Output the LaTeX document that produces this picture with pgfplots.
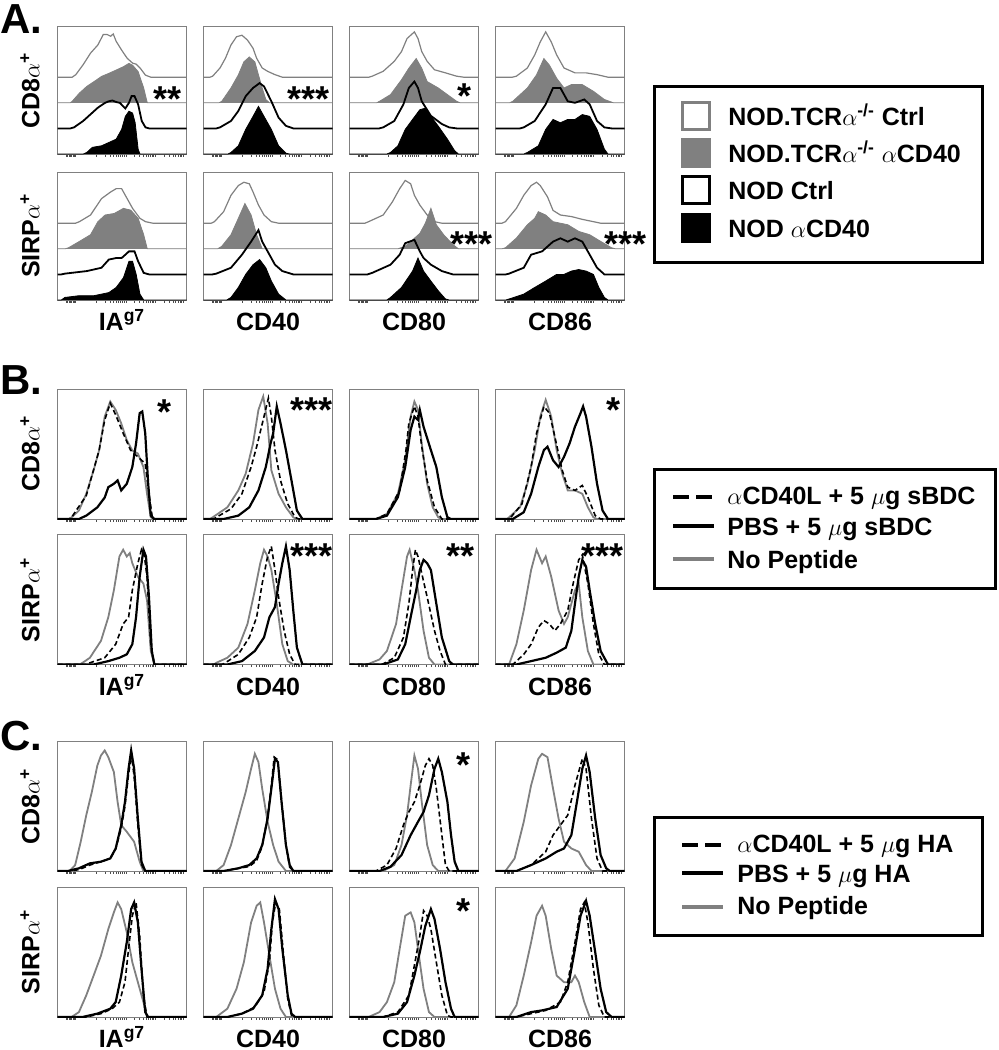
\documentclass[border=0pt]{standalone}
\usepackage{pgfplots}
\pgfplotsset{compat=1.18}
\usepackage{fontspec}
\setmainfont{Liberation Sans}
\pgfplotsset{
 fbase/.style={scale only axis, width=64.5pt, xmin=0, xmax=100, anchor=north west,
   axis line style={draw=gray, line width=0.5pt}, ytick=\empty,
   xtick={7,8,9,10,11,12,13,14,30,36.8,40.7,43.5,45.7,47.5,49,50.3,51.5,53,59.8,63.7,66.5,68.7,70.5,72,73.3,74.5,76,82.8,86.7,89.5,91.7,93.5,95,96.3,97.5},
   xticklabels={}, xtick pos=left, tick align=outside, major tick length=1.3pt,
   tick style={gray!60!black, line width=0.35pt}},
 fa/.style={fbase, height=64pt, ymin=0, ymax=5},
 fb/.style={fbase, height=65pt, ymin=0, ymax=100},
 fc/.style={fbase, height=64.75pt, ymin=0, ymax=100},
 lane/.style={y filter/.expression={y+#1}},
 go/.style={draw=gray, line width=0.6pt, no markers, lane=3},
 gf/.style={draw=gray, fill=gray, line width=0.4pt, no markers, lane=2},
 bo/.style={draw=black, line width=0.9pt, no markers, lane=1},
 bf/.style={draw=black, fill=black, line width=0.4pt, no markers, lane=0},
 cg/.style={draw=gray, line width=0.9pt, no markers},
 cd/.style={draw=black, line width=0.8pt, dash pattern=on 2.5pt off 1.5pt, no markers},
 cs/.style={draw=black, line width=1.1pt, no markers},
}
\begin{document}
\begin{tikzpicture}
% ---------------- Panel A ----------------
\begin{axis}[fa, at={(28.75pt,-13pt)}]
\addplot[go] coordinates {(0,0)(11.4,0)(14.2,0.1)(19.9,0.49)(25.6,0.94)(31.3,1.26)(35.5,1.67)(38.4,1.67)(41.2,1.6)(43.2,1.69)(45.5,1.4)(49.7,1.06)(54,0.74)(58.2,0.55)(61,0.51)(64,0.36)(68.2,0.08)(72.4,0)(100,0)};
\addplot[gf] coordinates {(0,0)(9.9,0)(11.4,0.06)(17,0.38)(22.7,0.64)(28.4,0.83)(34.1,1.03)(39.8,1.15)(45.5,1.28)(51.1,1.41)(55.4,1.54)(58.2,1.47)(62.5,1.22)(66.8,0.58)(69.6,0)(100,0)};
\addplot[bo] coordinates {(0,0)(10,0)(12.8,0.04)(19.9,0.29)(25.6,0.55)(31.3,0.81)(36.9,1.0)(39.8,1.06)(42.6,1.09)(45.5,1.03)(48.3,1.0)(52.6,0.78)(55.4,1.0)(57.4,1.26)(59.7,1.26)(62.5,0.94)(65.3,0.29)(68.2,0.04)(71,0)(100,0)};
\addplot[bf] coordinates {(0,0)(20,0)(22.7,0.06)(27,0.26)(34.1,0.32)(39.8,0.45)(45.5,0.58)(49.7,0.96)(52.6,1.47)(55.4,1.67)(58.2,1.6)(60.2,1.22)(62.5,0.19)(63.9,0)(100,0)};
\end{axis}
\begin{axis}[fa, at={(101.75pt,-13pt)}]
\addplot[go] coordinates {(0,0)(5,0)(7.1,0.04)(12.8,0.36)(17,0.74)(21.3,1.26)(25.6,1.58)(29.8,1.64)(34.1,1.45)(38.4,1.13)(41.2,0.74)(45.5,0.36)(49.7,0.23)(55.4,0.1)(61.1,0)(100,0)};
\addplot[gf] coordinates {(0,0)(12,0)(14.2,0.06)(21.3,0.58)(27,1.09)(31.3,1.6)(35.5,1.79)(39.8,1.6)(42.6,1.09)(45.5,0.58)(48.3,0.13)(51.1,0)(100,0)};
\addplot[bo] coordinates {(0,0)(10,0)(12.8,0.04)(21.3,0.29)(27,0.68)(32.7,1.26)(38.4,1.58)(43.5,1.77)(46.9,1.64)(52.6,1.06)(58.2,0.42)(63.9,0.1)(69.6,0)(100,0)};
\addplot[bf] coordinates {(0,0)(19,0)(21.3,0.06)(27,0.32)(32.7,0.96)(38.4,1.47)(42.6,1.86)(46.9,1.47)(52.6,0.96)(58.2,0.32)(63.9,0.03)(66.8,0)(100,0)};
\end{axis}
\begin{axis}[fa, at={(174.75pt,-13pt)}]
\addplot[go] coordinates {(0,0)(15,0)(17.6,0.04)(26.1,0.23)(34.7,0.62)(40.3,1.0)(44.6,1.51)(50.3,1.77)(53.1,1.51)(56,1.0)(60.2,0.62)(65.9,0.29)(74.4,0.17)(83,0.04)(88.6,0)(100,0)};
\addplot[gf] coordinates {(0,0)(21,0)(23.3,0.06)(31.8,0.32)(40.3,0.9)(46,1.35)(51.7,1.73)(56,1.35)(60.2,0.83)(68.8,0.58)(75.9,0.32)(83,0.06)(85.8,0)(100,0)};
\addplot[bo] coordinates {(0,0)(23,0)(26.1,0.04)(34.7,0.29)(41.8,0.94)(46,1.58)(50.3,1.83)(53.1,1.58)(56,1.06)(63.1,0.49)(71.6,0.17)(77.3,0.04)(83,0)(100,0)};
\addplot[bf] coordinates {(0,0)(29,0)(31.8,0.06)(37.5,0.32)(43.2,0.96)(48.9,1.35)(54.5,1.73)(58.8,1.79)(63.1,1.47)(68.8,1.09)(75.9,0.58)(81.5,0.13)(84.4,0)(100,0)};
\end{axis}
\begin{axis}[fa, at={(247.75pt,-13pt)}]
\addplot[go] coordinates {(0,0)(13,0)(16.2,0.04)(24.7,0.36)(30.4,0.87)(34.7,1.38)(38.9,1.77)(43.2,1.38)(47.4,0.87)(53.1,0.36)(61.6,0.17)(70.2,0.17)(78.7,0.1)(87.2,0)(100,0)};
\addplot[gf] coordinates {(0,0)(11,0)(13.4,0.06)(24.7,0.58)(31.8,1.09)(37.5,1.73)(41.8,1.47)(47.4,0.96)(53.1,0.58)(58.8,0.71)(67.3,0.71)(75.9,0.45)(84.4,0.13)(91.5,0)(100,0)};
\addplot[bo] coordinates {(0,0)(19,0)(21.9,0.04)(30.4,0.29)(38.9,0.94)(44.6,1.58)(50.3,1.58)(56,1.06)(61.6,1.0)(68.8,1.13)(73,0.94)(78.7,0.29)(84.4,0.04)(90,0)(100,0)};
\addplot[bf] coordinates {(0,0)(22,0)(24.7,0.06)(33.2,0.32)(38.9,0.96)(44.6,1.35)(50.3,1.22)(56,1.35)(61.6,1.35)(67.3,1.54)(73,1.47)(78.7,0.96)(84.4,0.19)(87.2,0)(100,0)};
\end{axis}
\begin{axis}[fa, at={(28.75pt,-86pt)}]
\addplot[go] coordinates {(0,0)(14,0)(17,0.06)(25.6,0.32)(34.1,0.96)(41.2,1.22)(45.5,1.35)(49.7,1.35)(54,0.96)(58.2,0.58)(63.9,0.19)(68.2,0.06)(73.9,0)(100,0)};
\addplot[gf] coordinates {(0,0)(6,0)(8.5,0.04)(17,0.29)(25.6,0.55)(31.3,1.06)(36.9,1.32)(44,1.38)(51.1,1.58)(56.8,1.51)(62.5,1.19)(66.8,0.55)(69.6,0)(100,0)};
\addplot[bo] coordinates {(0,0)(3,0)(5.7,0.03)(22.7,0.13)(34.1,0.26)(39.8,0.58)(45.5,0.64)(49.7,0.64)(52.6,0.77)(55.4,0.9)(59.7,0.9)(62.5,0.51)(66.8,0.06)(71,0)(100,0)};
\addplot[bf] coordinates {(0,0)(3,0)(5.7,0.1)(17,0.17)(28.4,0.17)(39.8,0.29)(45.5,0.49)(51.1,0.87)(55.4,1.51)(58.2,1.51)(61,1.0)(63.9,0.23)(66.8,0)(100,0)};
\end{axis}
\begin{axis}[fa, at={(101.75pt,-86pt)}]
\addplot[go] coordinates {(0,0)(6,0)(8.5,0.06)(15.6,0.45)(21.3,1.09)(27,1.47)(31.3,1.6)(35.5,1.54)(38.4,1.22)(42.6,0.71)(46.9,0.32)(52.6,0.06)(58.2,0)(100,0)};
\addplot[gf] coordinates {(0,0)(11,0)(14.2,0.1)(21.3,0.55)(27,1.19)(32.1,1.77)(36.9,1.32)(41.2,0.55)(45.5,0)(100,0)};
\addplot[bo] coordinates {(0,0)(7,0)(9.9,0.03)(21.3,0.26)(29.8,0.77)(36.9,1.28)(42.6,1.73)(45.5,1.28)(49.7,0.9)(55.4,0.38)(61.1,0.13)(69.6,0)(100,0)};
\addplot[bf] coordinates {(0,0)(18,0)(21.3,0.1)(27,0.49)(32.7,1.0)(38.4,1.38)(43.5,1.58)(48.3,1.26)(52.6,0.74)(58.2,0.23)(63.9,0)(100,0)};
\end{axis}
\begin{axis}[fa, at={(174.75pt,-86pt)}]
\addplot[go] coordinates {(0,0)(12,0)(14.8,0.06)(26.1,0.32)(33.2,0.83)(38.9,1.35)(43.2,1.67)(47.4,1.54)(50.3,1.09)(54.5,0.71)(60.2,0.32)(65.9,0.06)(71.6,0)(100,0)};
\addplot[gf] coordinates {(0,0)(37.5,0)(43.2,0.1)(48.9,0.35)(54.5,0.6)(58.8,1.0)(63.1,1.58)(67.3,0.94)(73,0.55)(80.1,0.17)(84.4,0)(100,0)};
\addplot[bo] coordinates {(0,0)(14,0)(17.6,0.06)(31.8,0.38)(38.9,0.77)(43.2,1.22)(50.3,1.35)(54.5,0.9)(57.4,0.64)(63.1,0.38)(71.6,0.13)(80.1,0)(100,0)};
\addplot[bf] coordinates {(0,0)(29,0)(31.8,0.1)(40.3,0.49)(48.9,1.13)(53.1,1.64)(57.4,1.13)(63.1,0.74)(68.8,0.36)(74.4,0.04)(77.3,0)(100,0)};
\end{axis}
\begin{axis}[fa, at={(247.75pt,-86pt)}]
\addplot[go] coordinates {(0,0)(5,0)(7.7,0.06)(16.2,0.58)(21.9,1.09)(27.6,1.47)(31.8,1.6)(34.7,1.47)(40.3,1.03)(44.6,0.5)(50.3,0.32)(58.8,0.26)(67.3,0.15)(75.9,0.06)(81.5,0)(100,0)};
\addplot[gf] coordinates {(0,0)(5,0)(7.7,0.04)(16.2,0.42)(24.7,0.94)(30.4,1.19)(33.2,1.45)(38.9,1.32)(44.6,1.06)(56,0.94)(64.5,0.68)(73,0.55)(81.5,0.29)(90,0.04)(92.9,0)(100,0)};
\addplot[bo] coordinates {(0,0)(8,0)(10.5,0.03)(21.9,0.26)(27.6,0.77)(36.1,0.9)(44.6,1.28)(50.3,1.41)(56,1.28)(61.6,1.41)(67.3,1.28)(73,0.77)(78.7,0.26)(84.4,0)(100,0)};
\addplot[bf] coordinates {(0,0)(8,0)(10.5,0.04)(21.9,0.23)(30.4,0.49)(38.9,0.74)(47.4,1.0)(53.1,1.0)(58.8,1.13)(64.5,1.19)(70.2,1.13)(75.9,1.0)(80.1,0.49)(84.4,0.1)(87.2,0)(100,0)};
\end{axis}
% ---------------- Panel B ----------------
\begin{axis}[fb, at={(28.75pt,-194.5pt)}]
\addplot[cg] coordinates {(0,0)(9,0)(10.9,1.3)(16.6,6.5)(22.3,19.4)(28,37.5)(32.3,53)(36.6,78.8)(40.9,90.4)(45.1,84)(49.4,73.6)(53.7,60.7)(58,52.7)(62.3,50.4)(66.6,40)(69.4,19.4)(72.3,1.3)(75.1,0)(100,0)};
\addplot[cd] coordinates {(0,0)(9,0)(10.9,1.3)(22.3,18)(32.3,53)(36.6,76.2)(40.9,89.1)(45.1,80.1)(50.9,66)(56.6,53)(62.3,47.8)(68,42.6)(70.9,19.4)(73.7,0)(100,0)};
\addplot[cs] coordinates {(0,0)(16.6,0)(22.3,2.6)(30.9,9)(36.6,16.5)(39.4,24.5)(43.7,27.1)(46.6,29.7)(49.4,22)(53.7,27.1)(58,40)(60.9,58.1)(63.7,81.4)(65.7,82.7)(68,66)(70.3,27.1)(72.3,2.6)(75.1,0)(100,0)};
\end{axis}
\begin{axis}[fb, at={(101.75pt,-194.5pt)}]
\addplot[cg] coordinates {(0,0)(5,0)(7.1,1.3)(18.5,9)(27,22)(32.7,34.9)(38.4,58.1)(42.6,84)(46.3,94.3)(49.7,73.6)(52.6,37.5)(58.2,19.4)(63.9,9)(69.6,1.3)(72.4,0)(100,0)};
\addplot[cd] coordinates {(0,0)(8,0)(9.9,1.3)(21.3,7.8)(29.8,19.4)(36.9,40)(41.2,55.6)(46.9,78.8)(50.3,93)(52.6,78.8)(55.4,53)(59.7,29.7)(65.3,11.6)(71,1.3)(73.9,0)(100,0)};
\addplot[cs] coordinates {(0,0)(15.6,0)(27,2.6)(35.5,9)(42.6,22)(48.3,40)(52,58.1)(54,65.9)(56.8,86.6)(59.7,73.6)(63.9,53)(68.2,29.7)(72.4,6.5)(76.7,0)(100,0)};
\end{axis}
\begin{axis}[fb, at={(174.75pt,-194.5pt)}]
\addplot[cg] coordinates {(0,0)(20.5,0)(29,3.9)(37.5,19.4)(43.2,45.2)(47.4,78.8)(50.3,90.4)(53.1,84)(56,58.1)(60.2,27.1)(64.5,9)(68.8,1.3)(71.6,0)(100,0)};
\addplot[cd] coordinates {(0,0)(20.5,0)(29,3.9)(38.9,22)(43.8,53)(46,73.6)(50.3,86.6)(53.1,78.8)(56,55.6)(60.2,29.7)(65.9,9)(71.6,0)(100,0)};
\addplot[cs] coordinates {(0,0)(20.5,0)(29,2.6)(37.5,16.8)(43.2,40)(47.4,68.5)(50.3,78.8)(53.1,76.2)(54.5,83.9)(57.4,71)(63.1,53)(67.3,40)(71.6,16.8)(75.9,1.3)(78.7,0)(100,0)};
\end{axis}
\begin{axis}[fb, at={(247.75pt,-194.5pt)}]
\addplot[cg] coordinates {(0,0)(9,0)(10.5,1.3)(19,9)(24.7,27.1)(30.4,53)(34.7,78.8)(38.9,91.7)(43.2,78.8)(47.4,53)(51.7,35)(56,22)(61.6,22)(67.3,19.4)(71.6,9)(75.9,1.3)(78.7,0)(100,0)};
\addplot[cd] coordinates {(0,0)(10,0)(11.9,1.3)(20.5,11.6)(27.6,40)(31.8,65.9)(37.5,86.6)(41.8,81.4)(46,63.3)(51.7,37.5)(56,24.5)(61.6,22)(67.3,25.8)(71.6,16.8)(77.3,2.6)(81.5,0)(100,0)};
\addplot[cs] coordinates {(0,0)(13.4,0)(21.9,5.2)(27.6,19.4)(33.2,40)(37.5,53)(40.3,55.6)(44.6,45.2)(48.9,40)(53.1,47.8)(57.4,58.1)(61.6,71)(65.9,81.4)(67.9,86.6)(70.2,78.8)(74.4,55.6)(78.7,27.1)(83,6.5)(87.2,0)(100,0)};
\end{axis}
\begin{axis}[fb, at={(28.75pt,-267.25pt)}]
\addplot[cg] coordinates {(0,0)(17,0)(19.4,1.3)(25.1,5.2)(33.7,18.2)(39.4,36.4)(43.7,57.1)(48,83.1)(50.9,88.3)(53.7,83.1)(56,85.7)(58,77.9)(62.3,67.5)(66.6,62.3)(69.4,49.4)(72.3,10.4)(75.1,0)(100,0)};
\addplot[cd] coordinates {(0,0)(22,0)(25.1,1.3)(36.6,5.2)(45.1,15.6)(50.9,31.2)(55.1,36.4)(58,57.1)(62.3,77.9)(65.1,88.3)(67.4,83.1)(69.4,67.5)(72.3,15.6)(75.1,0)(100,0)};
\addplot[cs] coordinates {(0,0)(28,0)(39.4,2.6)(48,5.2)(53.7,7.8)(58,15.6)(60.9,36.4)(63.7,67.5)(66.6,88.3)(68.6,83.1)(70.9,51.9)(73.1,10.4)(75.1,0)(100,0)};
\end{axis}
\begin{axis}[fb, at={(101.75pt,-267.25pt)}]
\addplot[cg] coordinates {(0,0)(8,0)(9.9,1.3)(18.5,5.2)(27,13)(34.1,31.2)(39.8,57.1)(44,77.9)(46.9,88.3)(49.7,83.1)(52.6,72.7)(56.8,46.8)(61.1,15.6)(65.3,2.6)(69.6,0)(100,0)};
\addplot[cd] coordinates {(0,0)(14,0)(15.6,0.5)(27,7.8)(35.5,20.8)(41.2,36.4)(45.5,62.3)(49.7,83.1)(52.6,90.9)(55.4,72.7)(58.2,51.9)(62.5,26)(66.8,7.8)(71,0)(100,0)};
\addplot[cs] coordinates {(0,0)(18.5,0)(29.8,2.6)(39.8,10.4)(46.9,20.8)(51.1,36.4)(55.4,44.2)(58.2,62.3)(61.1,77.9)(63.9,90.9)(66.8,72.7)(69.6,41.6)(72.4,13)(76.7,0)(100,0)};
\end{axis}
\begin{axis}[fb, at={(174.75pt,-267.25pt)}]
\addplot[cg] coordinates {(0,0)(12,0)(14.8,0.5)(23.3,3.9)(29,10.4)(36.1,31.2)(40.3,57.1)(44.6,83.1)(46.6,88.3)(50.3,72.7)(53.1,57.1)(57.4,26)(61.6,5.2)(65.9,0)(100,0)};
\addplot[cd] coordinates {(0,0)(24,0)(26.1,0.5)(34.7,5.2)(41.8,20.8)(46,46.8)(48.9,72.7)(51.1,88.3)(53.1,83.1)(56,70.1)(60.2,51.9)(65.9,26)(70.2,10.4)(74.4,0)(100,0)};
\addplot[cs] coordinates {(0,0)(26.1,0)(37.5,3.9)(43.2,15.6)(47.4,36.4)(51.7,57.1)(54.5,72.7)(57.4,80.5)(60.2,77.9)(63.1,72.7)(67.3,46.8)(71.6,20.8)(77.3,2.6)(80.1,0)(100,0)};
\end{axis}
\begin{axis}[fb, at={(247.75pt,-267.25pt)}]
\addplot[cg] coordinates {(0,0)(10.5,0)(16.2,15.6)(21.9,41.6)(27.6,72.7)(31.8,88.3)(36.1,77.9)(38.9,83.1)(43.2,67.5)(48.9,41.6)(53.1,31.2)(56,36.4)(61.6,57.1)(64.5,62.3)(67.3,36.4)(71.6,10.4)(75.9,0)(100,0)};
\addplot[cd] coordinates {(0,0)(13.4,0)(21.9,7.8)(27.6,15.6)(33.2,28.6)(37.5,33.8)(41.8,31.2)(46,26)(50.3,31.2)(56,41.6)(60.2,62.3)(64.5,80.5)(67.3,84.4)(71.6,62.3)(75.9,31.2)(80.1,7.8)(84.4,0)(100,0)};
\addplot[cs] coordinates {(0,0)(16.2,0)(27.6,2.6)(38.9,5.2)(47.4,9.1)(54.5,13)(58.8,26)(61.6,46.8)(64.5,67.5)(67.3,80.5)(70.2,75.3)(73,57.1)(77.3,31.2)(81.5,10.4)(87.2,0)(100,0)};
\end{axis}
% ---------------- Panel C ----------------
\begin{axis}[fc, at={(28.75pt,-370.75pt)}]
\addplot[cg] coordinates {(0,0)(9.4,0)(13.7,4.6)(18,22.6)(22.3,43.1)(26.6,61)(30.9,81.5)(33.7,89.2)(36.6,93.1)(39.4,87.9)(43.7,76.4)(46.6,53.3)(49.4,35.4)(53.7,30.3)(59.4,22.6)(63.7,7.2)(66.6,0)(100,0)};
\addplot[cd] coordinates {(0,0)(8,0)(16.6,1)(25.1,4.6)(33.7,7.2)(40.9,9.7)(45.1,17)(49.4,33)(52.3,50)(55.1,75)(57.4,90)(59.7,70)(62.3,35)(65.1,5)(68,0)(100,0)};
\addplot[cs] coordinates {(0,0)(8,0)(16.6,2.1)(25.1,5.9)(33.7,7.2)(40.9,9.7)(45.1,17.4)(49.4,35.4)(52.3,53.3)(55.1,79)(57.1,93.1)(59.4,79)(62.3,40.5)(65.1,7.2)(68,0)(100,0)};
\end{axis}
\begin{axis}[fc, at={(101.75pt,-370.75pt)}]
\addplot[cg] coordinates {(0,0)(9.9,0)(15.6,4.6)(21.3,20)(27,40.5)(32.7,61)(36.9,79)(39.8,90.5)(42.6,84.1)(45.5,63.6)(49.7,38)(54,20)(58.2,7.2)(63.9,0)(100,0)};
\addplot[cd] coordinates {(0,0)(15.6,0)(27,2)(35.5,3.5)(41.2,8)(45.5,19)(49.7,42)(52.6,66)(54.8,88)(57.4,86)(60.5,55)(63.9,20)(66.8,3)(69.6,0)(100,0)};
\addplot[cs] coordinates {(0,0)(15.6,0)(27,2.1)(35.5,4.6)(41.2,9.7)(45.5,20)(49.7,40.5)(52.6,63.6)(55.4,86.7)(57.7,84.1)(60.5,53.3)(63.9,20)(66.8,4.6)(69.6,0)(100,0)};
\end{axis}
\begin{axis}[fc, at={(174.75pt,-370.75pt)}]
\addplot[cg] coordinates {(0,0)(26.1,0)(34.7,4.6)(40.3,20)(44.6,43.1)(47.4,66.2)(50.3,89.2)(53.1,79)(56,53.3)(60.2,20)(64.5,4.6)(68.8,0)(100,0)};
\addplot[cd] coordinates {(0,0)(20.5,0)(29,4.6)(36.1,17.4)(41.8,35.4)(46,45.6)(50.3,53.3)(54.5,66.2)(58.8,81.5)(61.6,86.7)(64.5,81.5)(67.3,63.6)(71.6,27.7)(74.4,4.6)(77.3,0)(100,0)};
\addplot[cs] coordinates {(0,0)(23.3,0)(31.8,3.3)(40.3,12.3)(47.4,27.7)(53.1,38)(57.4,45.6)(61.6,58.5)(65.9,79)(68.8,86.7)(71.6,76.4)(75.9,53.3)(78.7,27.7)(81.5,7.2)(84.4,0)(100,0)};
\end{axis}
\begin{axis}[fc, at={(247.75pt,-370.75pt)}]
\addplot[cg] coordinates {(0,0)(7.7,0)(14.8,9.7)(21.9,38)(27.6,66.2)(33.2,86.7)(36.1,90.5)(40.3,87.9)(44.6,63.6)(48.9,40.5)(53.1,22.6)(58.8,17.4)(64.5,14.9)(70.2,4.6)(74.4,0)(100,0)};
\addplot[cd] coordinates {(0,0)(16.2,0)(27.6,4.6)(38.9,14.9)(44.6,27.7)(50.3,35.4)(56,43.1)(61.6,66.2)(67.3,86.7)(70.2,79)(74.4,40.5)(78.7,9.7)(83,0)(100,0)};
\addplot[cs] coordinates {(0,0)(16.2,0)(27.6,4.6)(38.9,9.7)(47.4,14.9)(53.1,17.4)(58.8,27.7)(63.1,53.3)(67.3,79)(70.2,89.2)(73,76.4)(77.3,40.5)(81.5,12.3)(85.8,2.1)(88.6,0)(100,0)};
\end{axis}
\begin{axis}[fc, at={(28.75pt,-443.75pt)}]
\addplot[cg] coordinates {(0,0)(10.9,0)(16.6,3.8)(22.3,16.7)(28,32)(33.7,47.4)(39.4,67.9)(43.7,80.8)(46.6,88.5)(49.4,83.3)(53.7,65.4)(58,42.3)(62.3,26.9)(66.6,11.5)(69.4,0)(100,0)};
\addplot[cd] coordinates {(0,0)(22.3,0)(33.7,2.6)(42.3,6.4)(48,11.5)(52.3,26.9)(55.1,52.6)(58,78.2)(60.9,88.5)(63.7,62.8)(66.6,16.7)(69.4,0)(100,0)};
\addplot[cs] coordinates {(0,0)(19.4,0)(30.9,2.6)(40.9,6.4)(45.1,11.5)(49.4,32)(53.7,57.7)(57.1,83.3)(59.4,88.5)(62.3,73.1)(65.1,37.2)(68,3.8)(70.3,0)(100,0)};
\end{axis}
\begin{axis}[fc, at={(101.75pt,-443.75pt)}]
\addplot[cg] coordinates {(0,0)(9.9,0)(18.5,6.4)(25.6,21.8)(31.3,42.3)(36.9,73.1)(41.2,85.9)(44,88.5)(46.9,73.1)(51.1,47.4)(55.4,21.8)(59.7,6.4)(63.9,0)(100,0)};
\addplot[cd] coordinates {(0,0)(18.5,0)(29.8,2.6)(39.8,7.7)(46.9,19.2)(51.1,42.3)(53.4,73.1)(56,88.5)(58.8,83.3)(61.6,52.6)(65.3,14.1)(68.2,1.3)(71,0)(100,0)};
\addplot[cs] coordinates {(0,0)(18.5,0)(29.8,2.6)(38.4,6.4)(45.5,16.7)(49.7,37.2)(52.6,67.9)(55.4,91)(58.2,83.3)(61.1,52.6)(65.3,16.7)(68.2,2.6)(71,0)(100,0)};
\end{axis}
\begin{axis}[fc, at={(174.75pt,-443.75pt)}]
\addplot[cg] coordinates {(0,0)(14.8,0)(23.3,3.8)(29,11.5)(34.7,26.9)(38.9,52.6)(43.2,78.2)(47.4,80.8)(50.3,73.1)(53.1,52.6)(57.4,21.8)(61.6,3.8)(65.9,0)(100,0)};
\addplot[cd] coordinates {(0,0)(26.1,0)(37.5,3.8)(46,16.7)(51.7,47.4)(54.5,62.8)(57.4,82.1)(60.2,78.2)(63.1,67.9)(67.3,42.3)(71.6,16.7)(75.9,1.3)(78.7,0)(100,0)};
\addplot[cs] coordinates {(0,0)(26.1,0)(37.5,2.6)(44.6,11.5)(50.3,32)(54.5,50)(58.8,70.5)(63.1,83.3)(65.9,75.6)(70.2,52.6)(74.4,26.9)(78.7,6.4)(81.5,0)(100,0)};
\end{axis}
\begin{axis}[fc, at={(247.75pt,-443.75pt)}]
\addplot[cg] coordinates {(0,0)(10.5,0)(16.2,9)(21.9,32)(27.6,57.7)(31.8,78.2)(36.1,85.9)(38.9,78.2)(43.2,52.6)(47.4,32)(53.1,26.9)(58.8,26.9)(61.6,32)(64.5,26.9)(68.8,11.5)(73,0)(100,0)};
\addplot[cd] coordinates {(0,0)(16.2,0)(27.6,2.6)(38.9,5.1)(50.3,11.5)(56,26.9)(61.6,57.7)(65.9,83.3)(68.8,88.5)(71.6,73.1)(75.9,37.2)(80.1,9)(84.4,0)(100,0)};
\addplot[cs] coordinates {(0,0)(16.2,0)(27.6,3.8)(36.1,5.1)(47.4,7.7)(56,21.8)(61.6,52.6)(65.9,78.2)(70.2,89.7)(73,78.2)(77.3,50)(81.5,21.8)(85.8,3.8)(90,0)(100,0)};
\end{axis}
% ---------------- texts and legends (pixel coordinates) ----------------
\begin{scope}[x=0.5pt, y=-0.5pt]
 \tikzset{lab/.style={font=\fontsize{12.5}{14}\selectfont\bfseries, inner sep=0pt},
          pan/.style={font=\fontsize{21}{24}\selectfont\bfseries, inner sep=0pt, anchor=base west},
          ast/.style={font=\fontsize{18}{20}\selectfont\bfseries, inner sep=0pt, anchor=base}}
 % panel letters
 \node[pan] at (0,33) {A.};
 \node[pan] at (0,394) {B.};
 \node[pan] at (0,750) {C.};
 % column labels
 \foreach \yb in {330,695,1047} {
  \node[lab, anchor=base] at (122,\yb) {IA\textsuperscript{g7}};
  \node[lab, anchor=base] at (268,\yb) {CD40};
  \node[lab, anchor=base] at (414,\yb) {CD80};
  \node[lab, anchor=base] at (560,\yb) {CD86};
 }
 % row labels
 \foreach \yc in {90,453.5,806} {\node[lab, rotate=90] at (30,\yc) {CD8$\alpha$\textsuperscript{+}};}
 \foreach \yc in {235.5,600,952} {\node[lab, rotate=90] at (30,\yc) {SIRP$\alpha$\textsuperscript{+}};}
 % asterisks
 \node[ast] at (168,111) {**};
 \node[ast] at (309,111) {***};
 \node[ast] at (465,108) {*};
 \node[ast] at (472,256) {***};
 \node[ast] at (626,256) {***};
 \node[ast] at (165,424) {*};
 \node[ast] at (312,422) {***};
 \node[ast] at (613,422) {*};
 \node[ast] at (312,568) {***};
 \node[ast] at (461,568) {**};
 \node[ast] at (603,568) {***};
 \node[ast] at (463,777) {*};
 \node[ast] at (463,923) {*};
 % legend A
 \draw[line width=1.5pt] (654,86) rectangle (982,262);
 \draw[gray, line width=1.5pt, fill=white] (682.5,102.5) rectangle (709.5,129.5);
 \fill[gray] (681,138) rectangle (711,168);
 \draw[black, line width=1.5pt, fill=white] (682.5,176.5) rectangle (709.5,203.5);
 \fill[black] (681,213) rectangle (711,243);
 \node[lab, anchor=base west] at (728,125) {NOD.TCR$\alpha$\textsuperscript{-/-} Ctrl};
 \node[lab, anchor=base west] at (728,162) {NOD.TCR$\alpha$\textsuperscript{-/-} $\alpha$CD40};
 \node[lab, anchor=base west] at (728,199) {NOD Ctrl};
 \node[lab, anchor=base west] at (728,237) {NOD $\alpha$CD40};
 % legend B
 \draw[line width=1.5pt] (654,469) rectangle (995,588);
 \draw[black, line width=1.8pt, dash pattern=on 8pt off 3.5pt] (673,497) -- (714,497);
 \draw[black, line width=2.2pt] (673,526) -- (714,526);
 \draw[gray, line width=2.2pt] (673,559) -- (714,559);
 \node[lab, anchor=base west] at (727,504) {$\alpha$CD40L + 5 $\mu$g sBDC};
 \node[lab, anchor=base west] at (727,535) {PBS + 5 $\mu$g sBDC};
 \node[lab, anchor=base west] at (727,568) {No Peptide};
 % legend C
 \draw[line width=1.5pt] (654,817) rectangle (982,935);
 \draw[black, line width=1.8pt, dash pattern=on 8pt off 3.5pt] (682,845) -- (723,845);
 \draw[black, line width=2.2pt] (682,873) -- (723,873);
 \draw[gray, line width=2.2pt] (682,907) -- (723,907);
 \node[lab, anchor=base west] at (737,852) {$\alpha$CD40L + 5 $\mu$g HA};
 \node[lab, anchor=base west] at (737,882) {PBS + 5 $\mu$g HA};
 \node[lab, anchor=base west] at (737,914) {No Peptide};
 \pgfresetboundingbox
 \path[use as bounding box] (0,0) rectangle (998,1050);
\end{scope}
\end{tikzpicture}
\end{document}
